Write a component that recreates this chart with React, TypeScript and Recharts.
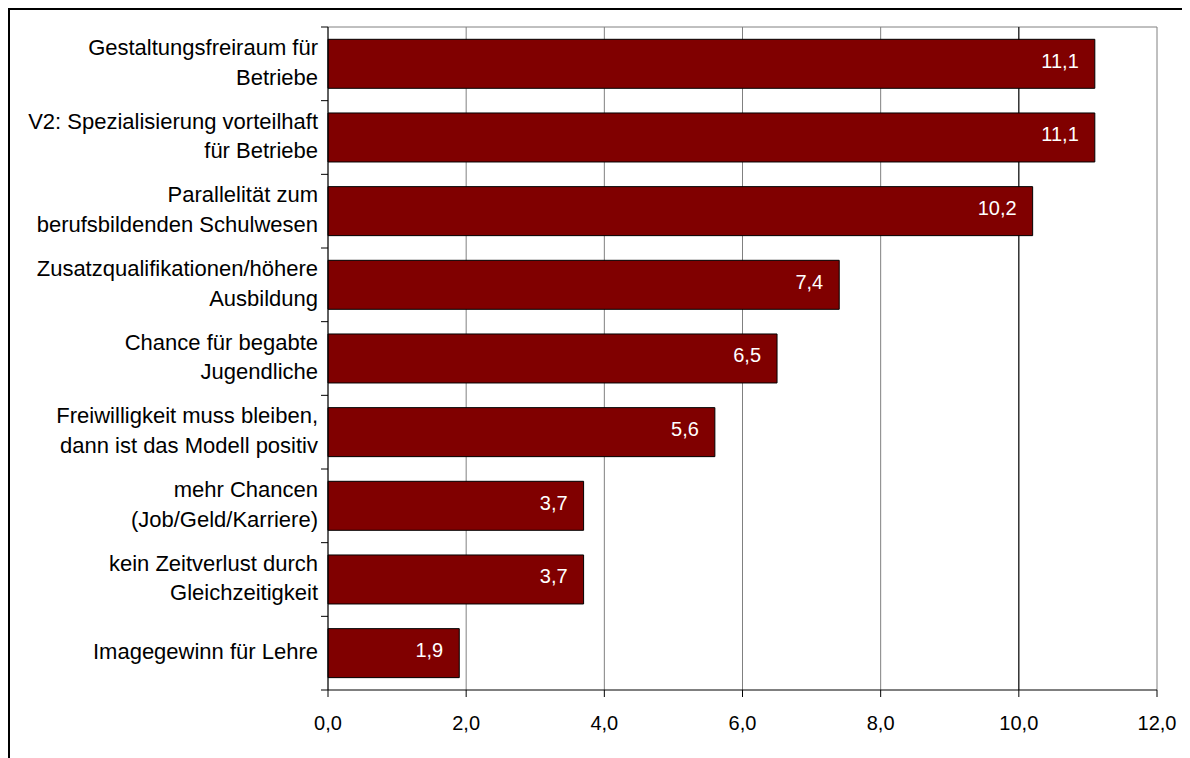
import React from "react";
import {
  BarChart,
  Bar,
  XAxis,
  YAxis,
  CartesianGrid,
  LabelList,
} from "recharts";

const categories: string[] = [
  "Gestaltungsfreiraum für\nBetriebe",
  "V2: Spezialisierung vorteilhaft\nfür Betriebe",
  "Parallelität zum\nberufsbildenden Schulwesen",
  "Zusatzqualifikationen/höhere\nAusbildung",
  "Chance für begabte\nJugendliche",
  "Freiwilligkeit muss bleiben,\ndann ist das Modell positiv",
  "mehr Chancen\n(Job/Geld/Karriere)",
  "kein Zeitverlust durch\nGleichzeitigkeit",
  "Imagegewinn für Lehre",
];

const values: number[] = [11.1, 11.1, 10.2, 7.4, 6.5, 5.6, 3.7, 3.7, 1.9];

const xTicks: number[] = [0, 2, 4, 6, 8, 10, 12];
const darkGridValues: number[] = [10];

const data = categories.map((c, i) => ({ name: c, value: values[i] }));

const FONT = '"Liberation Sans", Arial, Helvetica, sans-serif';
const Y_TICK_SIZE = 7;
const Y_TICK_MARGIN = 3;

const fmt = (v: number) => v.toFixed(1).replace(".", ",");

const CategoryTick = (props: any) => {
  const { x, y, payload, index, visibleTicksCount, height } = props;
  const lines = String(payload.value).split("\n");
  const n = lines.length;
  const band = height / visibleTicksCount;
  const axisX = x + Y_TICK_MARGIN + Y_TICK_SIZE;
  return (
    <g>
      <line x1={axisX - Y_TICK_SIZE} x2={axisX} y1={y - band / 2} y2={y - band / 2} stroke="#000" />
      {index === visibleTicksCount - 1 && (
        <line x1={axisX - Y_TICK_SIZE} x2={axisX} y1={y + band / 2} y2={y + band / 2} stroke="#000" />
      )}
      <text textAnchor="end" fontSize={22} fontFamily={FONT} fill="#000">
        {lines.map((l, i) => (
          <tspan key={i} x={x} y={y + (i - (n - 1) / 2) * 29.5 + 6}>
            {l}
          </tspan>
        ))}
      </text>
    </g>
  );
};

const ValueLabel = (props: any) => {
  const { x, y, width, height, value } = props;
  return (
    <text
      x={x + width - 16}
      y={y + height / 2 + 4}
      textAnchor="end"
      fontSize={20}
      fontFamily={FONT}
      fill="#fff"
    >
      {fmt(Number(value))}
    </text>
  );
};

export default function App() {
  return (
    <div
      style={{
        width: 1180,
        height: 748,
        borderTop: "2px solid #000",
        borderLeft: "2px solid #000",
        background: "#fff",
      }}
    >
      <BarChart
        width={1180}
        height={748}
        data={data}
        layout="vertical"
        margin={{ top: 17, right: 33, bottom: 28, left: 0 }}
        barCategoryGap="16.7%"
      >
        <CartesianGrid
          stroke="#808080"
          horizontal={true}
          vertical={true}
          horizontalCoordinatesGenerator={(p: any) => [p.offset.top]}
        />
        <CartesianGrid
          stroke="#000"
          horizontal={false}
          vertical={true}
          verticalValues={darkGridValues}
        />
        <XAxis
          type="number"
          domain={[0, 12]}
          ticks={xTicks}
          tickFormatter={fmt}
          tickSize={7}
          tickMargin={19}
          height={40}
          axisLine={{ stroke: "#000" }}
          tickLine={{ stroke: "#000" }}
          tick={{ fill: "#000", fontSize: 20, fontFamily: FONT }}
        />
        <YAxis
          type="category"
          dataKey="name"
          width={318}
          interval={0}
          tickSize={Y_TICK_SIZE}
          tickMargin={Y_TICK_MARGIN}
          tickLine={false}
          axisLine={{ stroke: "#000" }}
          tick={<CategoryTick />}
        />
        <Bar
          dataKey="value"
          fill="#800000"
          stroke="#000"
          strokeWidth={1}
          isAnimationActive={false}
        >
          <LabelList dataKey="value" content={<ValueLabel />} />
        </Bar>
      </BarChart>
    </div>
  );
}
